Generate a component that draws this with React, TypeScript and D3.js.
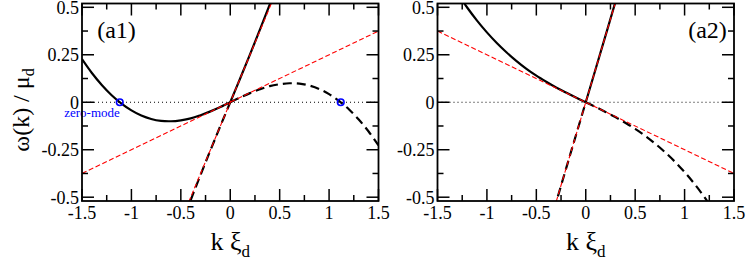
import React from "react";
import * as d3 from "d3";

// k grid (k xi_d) for the soft branches
const kGrid = [-1.5, -1.4, -1.3, -1.2, -1.1, -1.0, -0.9, -0.8, -0.7, -0.6, -0.5, -0.4, -0.3, -0.2, -0.1, 0,
  0.1, 0.2, 0.3, 0.4, 0.5, 0.6, 0.7, 0.8, 0.9, 1.0, 1.1, 1.2, 1.3, 1.4, 1.5];

// (a1) soft branch: solid for k<0, dashed for k>0
const a1Soft = [0.227, 0.154, 0.091, 0.037, -0.007, -0.043, -0.070, -0.088, -0.098, -0.100, -0.095, -0.085, -0.068, -0.048, -0.025, 0,
  0.025, 0.048, 0.068, 0.085, 0.095, 0.100, 0.098, 0.088, 0.070, 0.043, 0.007, -0.037, -0.091, -0.154, -0.227];
// (a2) soft branch
const a2Soft = [0.75, 0.659, 0.576, 0.499, 0.430, 0.368, 0.312, 0.262, 0.217, 0.176, 0.140, 0.108, 0.078, 0.051, 0.025, 0,
  -0.025, -0.051, -0.078, -0.108, -0.140, -0.176, -0.217, -0.262, -0.312, -0.368, -0.430, -0.499, -0.576, -0.659, -0.75];

// steep branches: dashed for k<0, solid for k>0
const kSteep1 = [-0.5, -0.4, -0.3, -0.2, -0.1, 0, 0.1, 0.2, 0.3, 0.4, 0.5];
const a1Steep = [-0.655, -0.515, -0.382, -0.252, -0.125, 0, 0.125, 0.252, 0.382, 0.515, 0.655];
const kSteep2 = [-0.4, -0.3, -0.2, -0.1, 0, 0.1, 0.2, 0.3, 0.4];
const a2Steep = [-0.708, -0.528, -0.351, -0.175, 0, 0.175, 0.351, 0.528, 0.708];

// red dashed sound lines (end points)
const a1SoundFast = [[-0.45, -0.5625], [0.45, 0.5625]];
const a1SoundSlow = [[-1.5, -0.375], [1.5, 0.375]];
const a2SoundFast = [[-0.32, -0.56], [0.32, 0.56]];
const a2SoundSlow = [[-1.5, 0.375], [1.5, -0.375]];

// zero modes in (a1)
const a1ZeroModes = [-1.118, 1.118];

const xTicks = [-1.5, -1, -0.5, 0, 0.5, 1, 1.5];
const xTickLabels = ["-1.5", "-1", "-0.5", "0", "0.5", "1", "1.5"];
const xMinor = [-1.25, -0.75, -0.25, 0.25, 0.75, 1.25];
const yTicks = [-0.5, -0.25, 0, 0.25, 0.5];
const yTickLabels = ["-0.5", "-0.25", "0", "0.25", "0.5"];
const yMinor = [-0.375, -0.125, 0.125, 0.375];

const serif = { fontFamily: "Liberation Serif" };

type P = [number, number];

function split(ks: number[], ws: number[]) {
  const neg: P[] = [];
  const pos: P[] = [];
  ks.forEach((k, i) => {
    if (k <= 0) neg.push([k, ws[i]]);
    if (k >= 0) pos.push([k, ws[i]]);
  });
  return { neg, pos };
}

function Panel(props: {
  id: string; left: number; label: string; labelX: number;
  soft: number[]; steepK: number[]; steep: number[];
  fast: number[][]; slow: number[][]; zeros?: number[];
}) {
  const { id, left, label, labelX, soft, steepK, steep, fast, slow, zeros } = props;
  const W = 296.5, top = 3.5, bottom = 201;
  const x = d3.scaleLinear().domain([-1.5, 1.5]).range([left, left + W]);
  const y = d3.scaleLinear().domain([-0.52, 0.52]).range([bottom, top]);
  const curve = d3.line<P>().x(d => x(d[0])).y(d => y(d[1])).curve(d3.curveCatmullRom);
  const straight = d3.line<P>().x(d => x(d[0])).y(d => y(d[1]));
  const s = split(kGrid, soft);
  const st = split(steepK, steep);
  const x0 = left, x1 = left + W;
  const maj = 12, mnr = 6;
  return (
    <g>
      <defs>
        <clipPath id={id}>
          <rect x={x0} y={top} width={W} height={bottom - top} />
        </clipPath>
      </defs>
      <g clipPath={`url(#${id})`} fill="none">
        <line x1={x0} x2={x1} y1={y(0)} y2={y(0)} stroke="#000" strokeWidth={1} strokeDasharray="1,3" />
        <path d={curve(s.neg) || ""} stroke="#000" strokeWidth={2.2} />
        <path d={curve(s.pos) || ""} stroke="#000" strokeWidth={2.2} strokeDasharray="9,5" />
        <path d={curve(st.pos) || ""} stroke="#000" strokeWidth={2.2} />
        <path d={curve(st.neg) || ""} stroke="#000" strokeWidth={2.2} strokeDasharray="9,5" />
        <path d={straight(fast as P[]) || ""} stroke="#ff0000" strokeWidth={1.1} strokeDasharray="5,2.5" />
        <path d={straight(slow as P[]) || ""} stroke="#ff0000" strokeWidth={1.1} strokeDasharray="5,2.5" />
      </g>
      {(zeros || []).map((z, i) => (
        <circle key={i} cx={x(z)} cy={y(0)} r={3.3} fill="none" stroke="#0000ff" strokeWidth={1.6} />
      ))}
      {zeros && (
        <text x={92} y={116.5} style={serif} fontSize={13} fill="#0000ff" textAnchor="middle">zero-mode</text>
      )}
      <rect x={x0} y={top} width={W} height={bottom - top} fill="none" stroke="#000" strokeWidth={1.8} />
      <g stroke="#000" strokeWidth={1.5}>
        {xTicks.map((t, i) => (
          <g key={"xt" + i}>
            <line x1={x(t)} x2={x(t)} y1={bottom} y2={bottom - maj} />
            <line x1={x(t)} x2={x(t)} y1={top} y2={top + maj} />
          </g>
        ))}
        {xMinor.map((t, i) => (
          <g key={"xm" + i}>
            <line x1={x(t)} x2={x(t)} y1={bottom} y2={bottom - mnr} />
            <line x1={x(t)} x2={x(t)} y1={top} y2={top + mnr} />
          </g>
        ))}
        {yTicks.map((t, i) => (
          <g key={"yt" + i}>
            <line x1={x0} x2={x0 + maj} y1={y(t)} y2={y(t)} />
            <line x1={x1} x2={x1 - maj} y1={y(t)} y2={y(t)} />
          </g>
        ))}
        {yMinor.map((t, i) => (
          <g key={"ym" + i}>
            <line x1={x0} x2={x0 + mnr} y1={y(t)} y2={y(t)} />
            <line x1={x1} x2={x1 - mnr} y1={y(t)} y2={y(t)} />
          </g>
        ))}
      </g>
      <g style={serif} fontSize={18} fill="#000">
        {xTicks.map((t, i) => (
          <text key={"xl" + i} x={x(t)} y={218.5} textAnchor="middle">{xTickLabels[i]}</text>
        ))}
        {yTicks.map((t, i) => (
          <text key={"yl" + i} x={x0 - 3} y={y(t)} dy="0.35em" textAnchor="end">{yTickLabels[i]}</text>
        ))}
      </g>
      <text x={labelX} y={38} style={serif} fontSize={24} textAnchor="middle">{label}</text>
      <text x={x(0)} y={250} style={serif} fontSize={26} textAnchor="middle">
        k ξ<tspan fontSize={17} dy={7}>d</tspan>
      </text>
    </g>
  );
}

export default function App() {
  return (
    <svg width={747} height={261} style={{ position: "absolute", left: 0, top: 0, background: "#fff" }}>
      <rect x={0} y={0} width={747} height={261} fill="#fff" />
      <text transform="translate(29,110) rotate(-90)" style={serif} fontSize={24} textAnchor="middle">
        ω(k) / μ<tspan fontSize={16} dy={5}>d</tspan>
      </text>
      <Panel id="clipA1" left={82} label="(a1)" labelX={116.5} soft={a1Soft} steepK={kSteep1} steep={a1Steep}
        fast={a1SoundFast} slow={a1SoundSlow} zeros={a1ZeroModes} />
      <Panel id="clipA2" left={437.5} label="(a2)" labelX={707.5} soft={a2Soft} steepK={kSteep2} steep={a2Steep}
        fast={a2SoundFast} slow={a2SoundSlow} />
    </svg>
  );
}
